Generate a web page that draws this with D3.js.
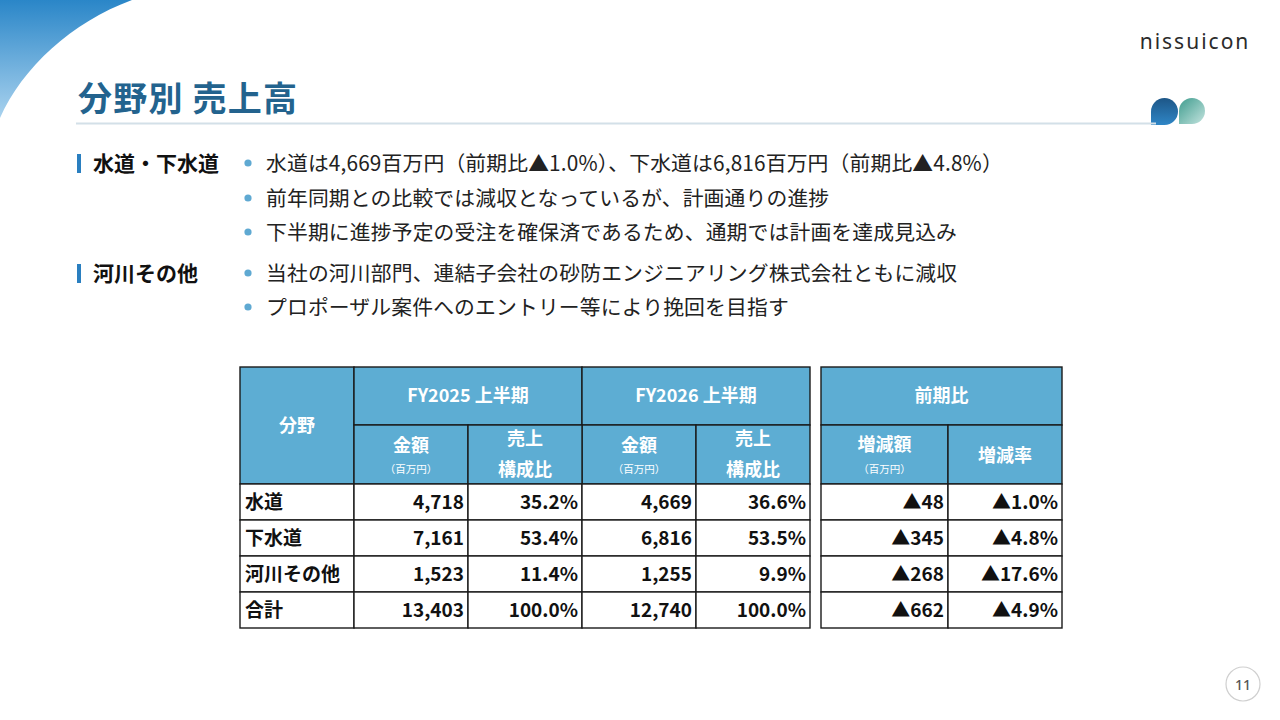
<!DOCTYPE html>
<html><head><meta charset="utf-8">
<script src="https://cdn.jsdelivr.net/npm/d3@7/dist/d3.min.js"></script>
<style>html,body{margin:0;padding:0;background:#fff;}svg{display:block;font-family:"Noto Sans CJK JP","Noto Sans",sans-serif;}</style>
</head><body>
<script>
// ---- data ----
const categories = ['水道', '下水道', '河川その他', '合計'];
const fy2025Amount = [4718, 7161, 1523, 13403];
const fy2025Share = [35.2, 53.4, 11.4, 100.0];
const fy2026Amount = [4669, 6816, 1255, 12740];
const fy2026Share = [36.6, 53.5, 9.9, 100.0];
const diffAmount = [-48, -345, -268, -662];
const diffRate = [-1.0, -4.8, -17.6, -4.9];
const title = '分野別 売上高';
const sections = [
  {label: '水道・下水道', bullets: [
    '水道は4,669百万円（前期比▲1.0%）、下水道は6,816百万円（前期比▲4.8%）',
    '前年同期との比較では減収となっているが、計画通りの進捗',
    '下半期に進捗予定の受注を確保済であるため、通期では計画を達成見込み']},
  {label: '河川その他', bullets: [
    '当社の河川部門、連結子会社の砂防エンジニアリング株式会社ともに減収',
    'プロポーザル案件へのエントリー等により挽回を目指す']}
];

const W = 1280, H = 720;
const svg = d3.select('body').append('svg').attr('width', W).attr('height', H);
const defs = svg.append('defs');

// corner gradient
const g1 = defs.append('linearGradient').attr('id','corner').attr('x1',0).attr('y1',0).attr('x2',0).attr('y2',1);
g1.append('stop').attr('offset','0%').attr('stop-color','#2a86c8');
g1.append('stop').attr('offset','100%').attr('stop-color','#a9d2ee');
svg.append('path').attr('d','M0,0 L132,0 C72,22 22,68 0,118 Z').attr('fill','url(#corner)');

// logo
svg.append('text').attr('x',1195).attr('y',41).attr('text-anchor','middle').attr('dominant-baseline','central')
  .attr('font-family','"Noto Sans","DejaVu Sans",sans-serif').attr('font-weight',400)
  .attr('font-size',21).attr('letter-spacing',2).attr('fill','#2b2b2b').text('nissuicon');
const gl = defs.append('linearGradient').attr('id','lg1').attr('x1',0).attr('y1',0).attr('x2',0).attr('y2',1);
gl.append('stop').attr('offset','0%').attr('stop-color','#1d5687');
gl.append('stop').attr('offset','100%').attr('stop-color','#2f86c6');
const gr = defs.append('linearGradient').attr('id','lg2').attr('x1',0).attr('y1',0).attr('x2',1).attr('y2',1);
gr.append('stop').attr('offset','0%').attr('stop-color','#3f9c8e');
gr.append('stop').attr('offset','100%').attr('stop-color','#c4e4df');
function leaf(x, y, s) {
  const r = s / 2;
  return `M${x},${y + s} L${x},${y + r} A${r},${r} 0 0 1 ${x + s},${y + r} L${x + s},${y + r} A${r},${r} 0 0 1 ${x + r},${y + s} Z`;
}
svg.append('path').attr('d', leaf(1151, 98, 27)).attr('fill','url(#lg1)');
svg.append('path').attr('d', leaf(1179, 98, 26)).attr('fill','url(#lg2)');

// title
svg.append('text').attr('x',78).attr('y',96).attr('dominant-baseline','central')
  .attr('font-size',34).attr('font-weight',700).attr('letter-spacing',1.2).attr('fill','#23638e').text(title);
svg.append('line').attr('x1',76).attr('x2',1156).attr('y1',123.5).attr('y2',123.5)
  .attr('stroke','#d3e0e8').attr('stroke-width',2);

// sections
const lineYs = [[162, 197, 231], [272, 306]];
sections.forEach((s, i) => {
  const ys = lineYs[i];
  svg.append('rect').attr('x',77).attr('y',ys[0]-8).attr('width',4).attr('height',19).attr('fill','#2a7fc0');
  svg.append('text').attr('x',93).attr('y',ys[0]).attr('dominant-baseline','central')
    .attr('font-size',21).attr('font-weight',700).attr('fill','#111').text(s.label);
  s.bullets.forEach((b, j) => {
    svg.append('circle').attr('cx',248).attr('cy',ys[j]+1).attr('r',3.6).attr('fill','#5fa9d2');
    svg.append('text').attr('x',266).attr('y',ys[j]).attr('dominant-baseline','central')
      .attr('font-size',20.8).attr('letter-spacing',0.15).attr('fill','#222').text(b);
  });
});

// ---- table ----
const headFill = '#5dadd3';
const bc = '#1a1a1a';
const fmtNum = d3.format(',');
const neg = v => (v < 0 ? '▲' : '') ;
const fmtAmt = v => neg(v) + fmtNum(Math.abs(v));
const fmtPct = v => neg(v) + Math.abs(v).toFixed(1) + '%';

const cols1 = ['cat','a25','s25','a26','s26'];
const x1 = d3.scaleBand().domain(cols1).range([240, 810]);
const x2 = d3.scaleOrdinal().domain(['da','dr']).range([821, 948]);
const x2w = d3.scaleOrdinal().domain(['da','dr']).range([127, 114]);
const rowY = d3.scaleBand().domain(d3.range(categories.length)).range([484, 628]);
const headTop = 367, headMid = 425, headBot = 484;

const tg = svg.append('g');
function cell(x, y, w, h, fill) {
  tg.append('rect').attr('x',x).attr('y',y).attr('width',w).attr('height',h)
    .attr('fill',fill).attr('stroke',bc).attr('stroke-width',1.4);
}
function txt(x, y, t, opts) {
  opts = opts || {};
  tg.append('text').attr('x',x).attr('y',y).attr('dominant-baseline','central')
    .attr('text-anchor',opts.anchor || 'middle').attr('font-size',opts.size || 18)
    .attr('font-weight',opts.weight == null ? 700 : opts.weight).attr('fill',opts.fill || '#fff').text(t);
}
// header table 1
cell(x1('cat'), headTop, x1.bandwidth(), headBot - headTop, headFill);
txt(x1('cat') + x1.bandwidth()/2, 424, '分野');
[['a25','FY2025 上半期'],['a26','FY2026 上半期']].forEach(([k, t]) => {
  cell(x1(k), headTop, x1.bandwidth()*2, headMid - headTop, headFill);
  txt(x1(k) + x1.bandwidth(), 394, t);
});
['a25','a26'].forEach(k => {
  cell(x1(k), headMid, x1.bandwidth(), headBot - headMid, headFill);
  txt(x1(k) + x1.bandwidth()/2, 444, '金額');
  txt(x1(k) + x1.bandwidth()/2, 468, '（百万円）', {size: 10.5, weight: 400});
});
['s25','s26'].forEach(k => {
  cell(x1(k), headMid, x1.bandwidth(), headBot - headMid, headFill);
  txt(x1(k) + x1.bandwidth()/2, 437, '売上');
  txt(x1(k) + x1.bandwidth()/2, 468, '構成比');
});
// header table 2
cell(x2('da'), headTop, x2w('da') + x2w('dr'), headMid - headTop, headFill);
txt(x2('da') + (x2w('da') + x2w('dr'))/2, 394, '前期比');
cell(x2('da'), headMid, x2w('da'), headBot - headMid, headFill);
txt(x2('da') + x2w('da')/2, 443, '増減額');
txt(x2('da') + x2w('da')/2, 468, '（百万円）', {size: 10.5, weight: 400});
cell(x2('dr'), headMid, x2w('dr'), headBot - headMid, headFill);
txt(x2('dr') + x2w('dr')/2, 454, '増減率');

// body
const bodyVals = {
  a25: fy2025Amount.map(fmtAmt), s25: fy2025Share.map(fmtPct),
  a26: fy2026Amount.map(fmtAmt), s26: fy2026Share.map(fmtPct),
  da: diffAmount.map(fmtAmt), dr: diffRate.map(fmtPct)
};
categories.forEach((c, i) => {
  const y = rowY(i), h = rowY.bandwidth(), cy = y + h/2 - 1.5;
  cols1.forEach(k => {
    cell(x1(k), y, x1.bandwidth(), h, '#fff');
    if (k === 'cat') txt(x1(k) + 5, cy, c, {anchor:'start', size:19, fill:'#111'});
    else txt(x1(k) + x1.bandwidth() - 4, cy, bodyVals[k][i], {anchor:'end', size:19, fill:'#111'});
  });
  ['da','dr'].forEach(k => {
    cell(x2(k), y, x2w(k), h, '#fff');
    txt(x2(k) + x2w(k) - 4, cy, bodyVals[k][i], {anchor:'end', size:19, fill:'#111'});
  });
});

// page number
svg.append('circle').attr('cx',1243).attr('cy',684).attr('r',17).attr('fill','#fff').attr('stroke','#cfcfcf').attr('stroke-width',1.2);
svg.append('text').attr('x',1243).attr('y',684).attr('text-anchor','middle').attr('dominant-baseline','central')
  .attr('font-size',14).attr('font-weight',500).attr('fill','#555').attr('font-family','"Noto Sans",sans-serif').text('11');
</script>
</body></html>
